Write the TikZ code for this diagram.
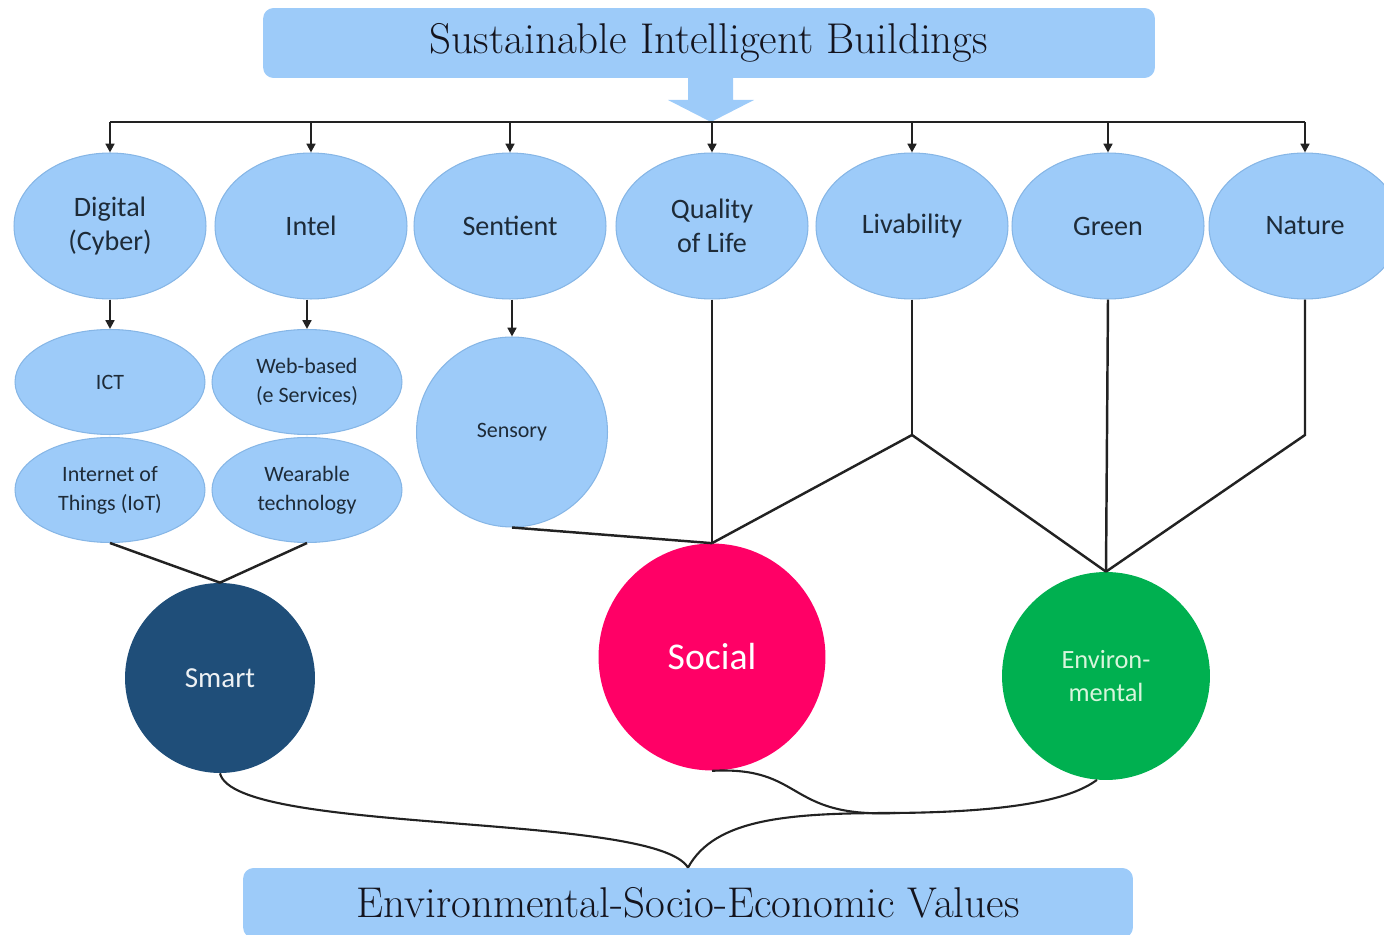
\documentclass[tikz,border=0pt]{standalone}
\usepackage{fontspec}
\setsansfont{Carlito}
\usetikzlibrary{shapes.geometric,arrows.meta}
\definecolor{skyfill}{HTML}{9DCBF9}
\definecolor{skyline}{HTML}{86B6E6}
\definecolor{inktext}{HTML}{1E2B38}
\definecolor{titleink}{HTML}{14141E}
\definecolor{smartblue}{HTML}{1F4E79}
\definecolor{socialred}{HTML}{FF0066}
\definecolor{envgreen}{HTML}{00B050}
\definecolor{envtext}{HTML}{D8F5DC}
\definecolor{wire}{HTML}{222222}
\begin{document}
\begin{tikzpicture}[x=0.02cm,y=-0.02cm,
  banner/.style={rectangle, rounded corners=6pt, fill=skyfill, inner sep=0pt,
    text=titleink, font=\fontsize{24.5}{29}\selectfont},
  topell/.style={ellipse, fill=skyfill, draw=skyline, line width=0.6pt,
    minimum width=3.84cm, minimum height=2.92cm, inner sep=0pt, align=center,
    text=inktext, font=\sffamily\fontsize{16}{19.5}\selectfont},
  subell/.style={ellipse, fill=skyfill, draw=skyline, line width=0.6pt,
    minimum width=3.8cm, minimum height=2.1cm, inner sep=0pt, align=center,
    text=inktext, font=\sffamily\fontsize{12.5}{16.5}\selectfont},
  hub/.style={circle, inner sep=0pt, align=center},
  wireline/.style={draw=wire, line width=1.4pt},
  feed/.style={wireline, -{Triangle[length=5pt,width=5pt]}},
  flow/.style={draw=wire, line width=1.2pt}
]
\useasboundingbox (0,0) rectangle (1384,935);

% banners
\node[banner, minimum width=17.84cm, minimum height=1.4cm] (title) at (709,43)
  {Sustainable Intelligent Buildings};
\node[banner, minimum width=17.8cm, minimum height=1.4cm] (values) at (688,903)
  {Environmental-Socio-Economic Values};

% block arrow under the title
\fill[skyfill] (688,78) -- (733,78) -- (733,100) -- (754,100) -- (711,122)
  -- (668,100) -- (688,100) -- cycle;

% first row of concepts
\node[topell] (dig) at (110,226) {Digital\\(Cyber)};
\node[topell] (intel) at (311,226) {Intel};
\node[topell] (sent) at (510,226) {Sentient};
\node[topell] (qol) at (712,226) {Quality\\of Life};
\node[topell] (liv) at (912,226) {Livability};
\node[topell] (green) at (1108,226) {Green};
\node[topell] (nat) at (1305,226) {Nature};

% second row
\node[subell] (ict) at (110,382) {ICT};
\node[subell] (web) at (307,382) {Web-based\\(e Services)};
\node[subell] (iot) at (110,490) {Internet of\\Things (IoT)};
\node[subell] (wear) at (307,490) {Wearable\\technology};
\node[ellipse, fill=skyfill, draw=skyline, line width=0.6pt, minimum width=3.82cm,
  minimum height=3.8cm, inner sep=0pt, text=inktext,
  font=\sffamily\fontsize{12.5}{15}\selectfont] (sens) at (512,432) {Sensory};

% pillars
\node[hub, fill=smartblue, minimum size=3.8cm, text=white!92!smartblue,
  font=\sffamily\fontsize{16.5}{20}\selectfont] (smart) at (220,678) {Smart};
\node[hub, fill=socialred, minimum size=4.54cm, text=white,
  font=\sffamily\fontsize{21.5}{25}\selectfont] (soc) at (712,657) {Social};
\node[hub, fill=envgreen, minimum size=4.16cm, text=envtext,
  font=\sffamily\fontsize{15}{19}\selectfont] (env) at (1106,676) {Environ-\\mental};

% distribution bar
\coordinate (bar) at (0,122);
\draw[wireline] (dig.north |- bar) -- (nat.north |- bar);
\foreach \n in {dig,intel,sent,qol,liv,green,nat}
  \draw[feed] (\n.north |- bar) -- (\n.north);

% refinements
\draw[feed] (dig.south) -- (ict.north);
\draw[feed] (intel.south -| web.north) -- (web.north);
\draw[feed] (sent.south -| sens.north) -- (sens.north);

% links into the pillars
\coordinate (livj) at (912,435);
\coordinate (natj) at (1305,435);
\draw[wireline] (iot.south) -- (smart.north);
\draw[wireline] (wear.south) -- (smart.north);
\draw[wireline] (sens.south) -- (soc.north);
\draw[wireline] (qol.south) -- (soc.north);
\draw[wireline] (liv.south) -- (livj);
\draw[wireline] (livj) -- (soc.north);
\draw[wireline] (livj) -- (env.north);
\draw[wireline] (green.south) -- (env.north);
\draw[wireline] (nat.south) -- (natj) -- (env.north);

% merging into the values banner
\coordinate (merge) at (895,813);
\draw[flow] (smart.south) .. controls (235,835) and (655,812) .. (values.north);
\draw[flow] (values.north) .. controls (715,818) and (790,813) .. (merge);
\draw[flow] (soc.south) .. controls (805,766) and (785,818) .. (merge);
\draw[flow] (merge) .. controls (1010,812) and (1070,800) .. (env.265);
\end{tikzpicture}
\end{document}
